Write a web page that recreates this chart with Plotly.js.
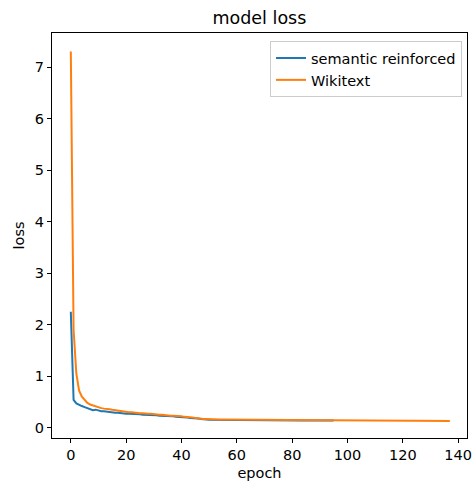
<!DOCTYPE html>
<html>
<head>
<meta charset="utf-8">
<script src="https://cdn.plot.ly/plotly-3.0.1.min.js"></script>
<style>html,body{margin:0;padding:0;background:#fff;}#chart{width:476px;height:481px;}</style>
</head>
<body>
<div id="chart"></div>
<script>
const seriesNames = ["semantic reinforced", "Wikitext"];
const semanticLoss = [
  2.25, 0.54, 0.47, 0.44, 0.42, 0.40, 0.38, 0.36, 0.34, 0.35,
  0.33, 0.32, 0.32, 0.31, 0.30, 0.30, 0.29, 0.29, 0.28, 0.28,
  0.27, 0.27, 0.27, 0.26, 0.26, 0.26, 0.25, 0.25, 0.25, 0.24,
  0.24, 0.24, 0.23, 0.23, 0.23, 0.22, 0.22, 0.22, 0.21, 0.21,
  0.21, 0.20, 0.20, 0.19, 0.19, 0.18, 0.18, 0.17, 0.17, 0.16,
  0.155, 0.153, 0.152, 0.152, 0.151, 0.151, 0.150, 0.150, 0.150, 0.149,
  0.149, 0.149, 0.148, 0.148, 0.148, 0.147, 0.147, 0.147, 0.146, 0.146,
  0.146, 0.145, 0.145, 0.145, 0.145, 0.144, 0.144, 0.144, 0.144, 0.143,
  0.143, 0.143, 0.143, 0.142, 0.142, 0.142, 0.142, 0.141, 0.141, 0.141,
  0.141, 0.140, 0.140, 0.140, 0.140, 0.140
];
const wikitextLoss = [
  7.30, 1.90, 1.05, 0.72, 0.60, 0.53, 0.48, 0.45, 0.43, 0.42,
  0.40, 0.38, 0.37, 0.37, 0.36, 0.35, 0.34, 0.33, 0.33, 0.32,
  0.31, 0.30, 0.30, 0.29, 0.29, 0.28, 0.28, 0.27, 0.27, 0.27,
  0.26, 0.26, 0.25, 0.25, 0.24, 0.24, 0.23, 0.23, 0.23, 0.22,
  0.22, 0.21, 0.21, 0.20, 0.20, 0.19, 0.18, 0.18, 0.17, 0.17,
  0.165, 0.163, 0.162, 0.161, 0.160, 0.160, 0.159, 0.159, 0.158, 0.158,
  0.158, 0.157, 0.157, 0.157, 0.156, 0.156, 0.156, 0.155, 0.155, 0.155,
  0.154, 0.154, 0.154, 0.153, 0.153, 0.153, 0.152, 0.152, 0.152, 0.151,
  0.151, 0.151, 0.150, 0.150, 0.150, 0.149, 0.149, 0.149, 0.148, 0.148,
  0.148, 0.147, 0.147, 0.147, 0.146, 0.146, 0.146, 0.145, 0.145, 0.145,
  0.144, 0.144, 0.144, 0.143, 0.143, 0.143, 0.142, 0.142, 0.142, 0.141,
  0.141, 0.141, 0.140, 0.140, 0.140, 0.139, 0.139, 0.139, 0.138, 0.138,
  0.138, 0.137, 0.137, 0.137, 0.136, 0.136, 0.136, 0.135, 0.135, 0.135,
  0.134, 0.134, 0.134, 0.133, 0.133, 0.133, 0.132, 0.132
];
const xTicks = [0, 20, 40, 60, 80, 100, 120, 140];
const yTicks = [0, 1, 2, 3, 4, 5, 6, 7];

const epochsA = semanticLoss.map((_, i) => i);
const epochsB = wikitextLoss.map((_, i) => i);

const font = "DejaVu Sans, sans-serif";
const data = [
  {x: epochsA, y: semanticLoss, name: seriesNames[0], type: "scatter", mode: "lines",
   line: {color: "#1f77b4", width: 2}},
  {x: epochsB, y: wikitextLoss, name: seriesNames[1], type: "scatter", mode: "lines",
   line: {color: "#ff7f0e", width: 2}}
];
const axisCommon = {
  showline: true, linecolor: "#000", linewidth: 1, mirror: true,
  ticks: "outside", ticklen: 4, tickwidth: 1, tickcolor: "#000",
  showgrid: false, zeroline: false, tickfont: {family: font, size: 14.5, color: "#000"}
};
const layout = {
  width: 476, height: 481,
  margin: {l: 52, r: 9, t: 33, b: 43},
  paper_bgcolor: "#fff", plot_bgcolor: "#fff",
  font: {family: font, color: "#000"},
  title: {text: "model loss", font: {family: font, size: 17.5, color: "#000"}, x: 0.545, xanchor: "center", y: 0.962, yanchor: "middle"},
  xaxis: Object.assign({}, axisCommon, {
    range: [-6.8, 143.2], tickvals: xTicks, ticktext: xTicks.map(String),
    title: {text: "epoch", font: {family: font, size: 14.5, color: "#000"}, standoff: 8}
  }),
  yaxis: Object.assign({}, axisCommon, {
    range: [-0.2, 7.66], tickvals: yTicks, ticktext: yTicks.map(String),
    title: {text: "loss", font: {family: font, size: 14.5, color: "#000"}, standoff: 6}
  }),
  showlegend: true,
  legend: {x: 0.988, xanchor: "right", y: 0.98, yanchor: "top",
    bgcolor: "rgba(255,255,255,0.8)", bordercolor: "#ccc", borderwidth: 1,
    font: {family: font, size: 14.5, color: "#000"}, tracegroupgap: 0}
};
Plotly.newPlot("chart", data, layout, {displayModeBar: false, staticPlot: true});
</script>
</body>
</html>
